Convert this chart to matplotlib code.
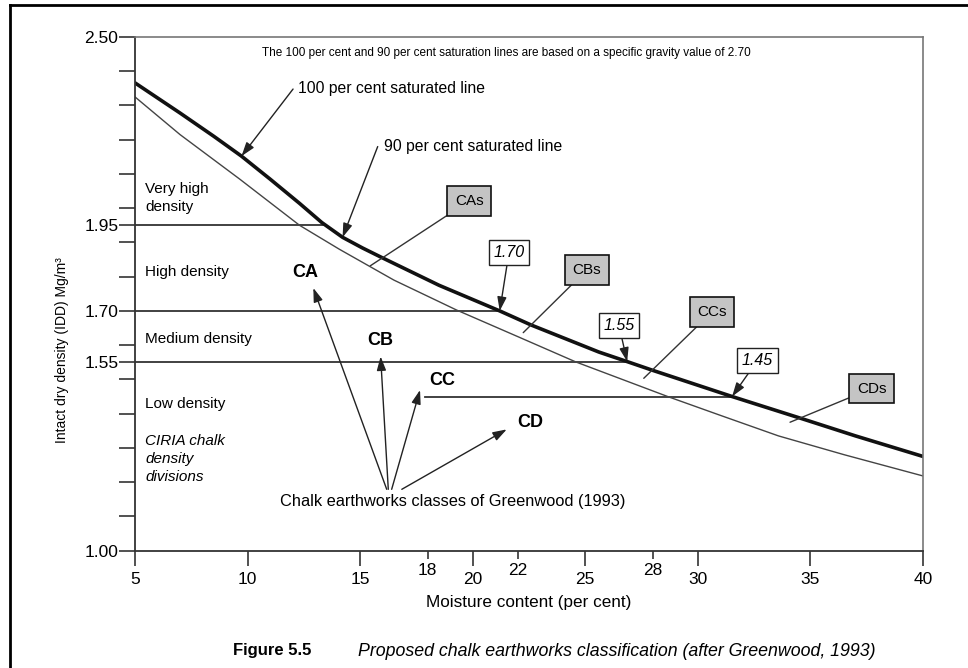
import matplotlib.pyplot as plt
import numpy as np
from matplotlib.lines import Line2D

plt.rcParams['font.family'] = ['Liberation Sans', 'DejaVu Sans']
narrow = ['Liberation Sans Narrow', 'Liberation Sans', 'DejaVu Sans']

# saturation lines (moisture %, dry density Mg/m3)
sat100_w = [5.0, 7.0, 8.5, 9.73, 11.0, 12.31, 13.3, 14.22, 15.1, 15.99, 18.5, 21.2, 22.59,
            25.6, 26.86, 27.97, 31.52, 34.54, 37.0, 40.0]
sat100_rho = [2.366, 2.278, 2.210, 2.152, 2.085, 2.014, 1.958, 1.915, 1.884, 1.855, 1.775,
              1.700, 1.659, 1.580, 1.552, 1.527, 1.450, 1.387, 1.335, 1.275]
sat90_w = [5.0, 7.0, 9.65, 12.31, 14.08, 16.5, 19.27, 22.0, 24.58, 28.7, 31.0, 33.58,
           36.5, 40.0]
sat90_rho = [2.325, 2.215, 2.085, 1.950, 1.880, 1.790, 1.703, 1.625, 1.551, 1.449, 1.395,
             1.335, 1.280, 1.218]

# CIRIA density divisions and the CC/CD boundary
div_rho = [1.95, 1.70, 1.55, 1.45]
div_from = [5.0, 5.0, 5.0, 17.88]
div_to = [13.45, 21.2, 26.86, 31.52]

region_names = ['Very high\ndensity', 'High density', 'Medium density', 'Low density']
region_y = [0.6865, 0.5424, 0.412, 0.2854]

# Greenwood classes: label position, arrow tip
class_names = ['CA', 'CB', 'CC', 'CD']
class_w = [12.58, 15.88, 18.64, 22.55]
class_rho = [1.812, 1.615, 1.498, 1.374]
tip_w = [12.92, 15.91, 17.66, 21.51]
tip_rho = [1.767, 1.567, 1.469, 1.354]
tail_w = [16.18, 16.25, 16.40, 16.85]
tail_rho = 1.179

# saturated-state classes on the 100% line
sat_names = ['CAs', 'CBs', 'CCs', 'CDs']
sat_box_w = [19.84, 25.06, 30.63, 37.72]
sat_box_rho = [2.021, 1.8195, 1.697, 1.4734]
sat_hit_w = [15.99, 22.59, 27.97, 34.54]

# boundary densities marked on the 100% line
bnd_names = ['1.70', '1.55', '1.45']
bnd_box_w = [21.61, 26.50, 32.65]
bnd_box_rho = [1.8706, 1.6568, 1.5555]
bnd_hit_w = [21.2, 26.86, 31.52]

xmajor = [5, 10, 15, 20, 25, 30, 35, 40]
xminor = [18, 22, 28]
ymajor = [1.00, 1.55, 1.70, 1.95, 2.50]
yminor = [1.1, 1.2, 1.3, 1.4, 1.5, 1.6, 1.8, 1.9, 2.0, 2.1, 2.2, 2.3, 2.4]

fig = plt.figure(figsize=(9.68, 6.68), dpi=100)
ax = fig.add_axes([135 / 968, 1 - 550.6 / 668, 788 / 968, 513.6 / 668])
ax.set_xlim(5, 40)
ax.set_ylim(1.0, 2.5)

# outer frame (left and top edges visible)
fig.add_artist(Line2D([10 / 968, 10 / 968], [-0.05, 1 - 5 / 668], color='black', lw=2.0))
fig.add_artist(Line2D([10 / 968, 1.05], [1 - 5 / 668, 1 - 5 / 668], color='black', lw=2.0))

for s in ['left', 'bottom']:
    ax.spines[s].set_color('#333333')
    ax.spines[s].set_linewidth(1.3)
for s in ['top', 'right']:
    ax.spines[s].set_color('#777777')
    ax.spines[s].set_linewidth(1.2)

for r, a, b in zip(div_rho, div_from, div_to):
    ax.plot([a, b], [r, r], color='#333333', lw=1.3)

ax.plot(sat90_w, sat90_rho, color='#444444', lw=1.0)
ax.plot(sat100_w, sat100_rho, color='#111111', lw=2.6, solid_joinstyle='round')

ax.set_xticks(xmajor)
ax.set_xticklabels([str(v) for v in xmajor], fontfamily=narrow, fontsize=12.5)
ax.set_xticks(xminor, minor=True)
ax.set_xticklabels([str(v) for v in xminor], minor=True, fontfamily=narrow, fontsize=12.5)
ax.set_yticks(ymajor)
ax.set_yticklabels(['%.2f' % v for v in ymajor], fontfamily=narrow, fontsize=12.5)
ax.set_yticks(yminor, minor=True)
ax.tick_params(axis='x', which='major', length=10.8, width=1.2, color='#333333', pad=4.5)
ax.tick_params(axis='x', which='minor', length=6, width=1.2, color='#333333', pad=3.2)
ax.tick_params(axis='y', which='both', length=11.5, width=1.2, color='#333333', pad=0.5)

ax.set_xlabel('Moisture content (per cent)', fontfamily=narrow, fontsize=12.3, labelpad=6)
fig.text(62 / 968, 1 - 350 / 668, 'Intact dry density (IDD) Mg/m³', rotation=90,
         ha='center', va='center', fontsize=10)

ax.text(0.161, 0.969, 'The 100 per cent and 90 per cent saturation lines are based on a '
        'specific gravity value of 2.70', transform=ax.transAxes, fontsize=8.5,
        ha='left', va='center')

for name, y in zip(region_names, region_y):
    ax.text(0.0127, y, name, transform=ax.transAxes, fontsize=11, ha='left', va='center',
            linespacing=1.45)
ax.text(0.0127, 0.178, 'CIRIA chalk\ndensity\ndivisions', transform=ax.transAxes,
        fontsize=11, style='italic', ha='left', va='center', linespacing=1.35)

arrow = dict(arrowstyle='-|>,head_length=0.6,head_width=0.2', color='#222222', lw=1.0,
             mutation_scale=14, shrinkA=0, shrinkB=0)


def on100(w):
    return np.interp(w, sat100_w, sat100_rho)


# curve callouts
ax.text(0.207, 0.899, '100 per cent saturated line', transform=ax.transAxes, fontsize=11.3,
        ha='left', va='center')
ax.annotate('', xy=(9.73, on100(9.73)), xytext=(12.02, 2.348), arrowprops=arrow)
ax.text(0.316, 0.786, '90 per cent saturated line', transform=ax.transAxes, fontsize=11.3,
        ha='left', va='center')
ax.annotate('', xy=(14.22, on100(14.22)), xytext=(15.78, 2.180), arrowprops=arrow)

# Greenwood classes
for n, lw_, lr, tw, tr, aw in zip(class_names, class_w, class_rho, tip_w, tip_rho, tail_w):
    ax.text(lw_, lr, n, fontsize=13, fontweight='bold', ha='center', va='center')
    ax.annotate('', xy=(tw, tr), xytext=(aw, tail_rho), arrowprops=arrow)
ax.text(0.184, 0.095, 'Chalk earthworks classes of Greenwood (1993)', transform=ax.transAxes,
        fontsize=11.8, ha='left', va='center')

# saturated classes boxes
for n, bw, br, hw in zip(sat_names, sat_box_w, sat_box_rho, sat_hit_w):
    hr = on100(hw)
    ew = hw + 0.14 * (hw - bw)
    er = hr + 0.14 * (hr - br)
    ax.annotate(n, xy=(ew, er), xytext=(bw, br), fontsize=11, ha='center', va='center',
                bbox=dict(boxstyle='square,pad=0.5', fc='#c4c4c4', ec='#111111', lw=1.2),
                arrowprops=dict(arrowstyle='-', color='#333333', lw=1.0, shrinkA=0, shrinkB=0))

# boundary density boxes
for n, bw, br, hw in zip(bnd_names, bnd_box_w, bnd_box_rho, bnd_hit_w):
    ax.annotate(n, xy=(hw, on100(hw)), xytext=(bw, br), fontsize=11.5, style='italic',
                fontfamily=narrow, ha='center', va='center',
                bbox=dict(boxstyle='square,pad=0.3', fc='white', ec='#222222', lw=1.0),
                arrowprops=arrow)

fig.text(233 / 968, 1 - 651 / 668, 'Figure 5.5', fontfamily=narrow, fontsize=12,
         fontweight='bold', ha='left', va='center')
fig.text(358 / 968, 1 - 651 / 668,
         'Proposed chalk earthworks classification (after Greenwood, 1993)',
         fontfamily=narrow, fontsize=12.75, style='italic', ha='left', va='center')

fig.savefig('out.png', dpi=100)
